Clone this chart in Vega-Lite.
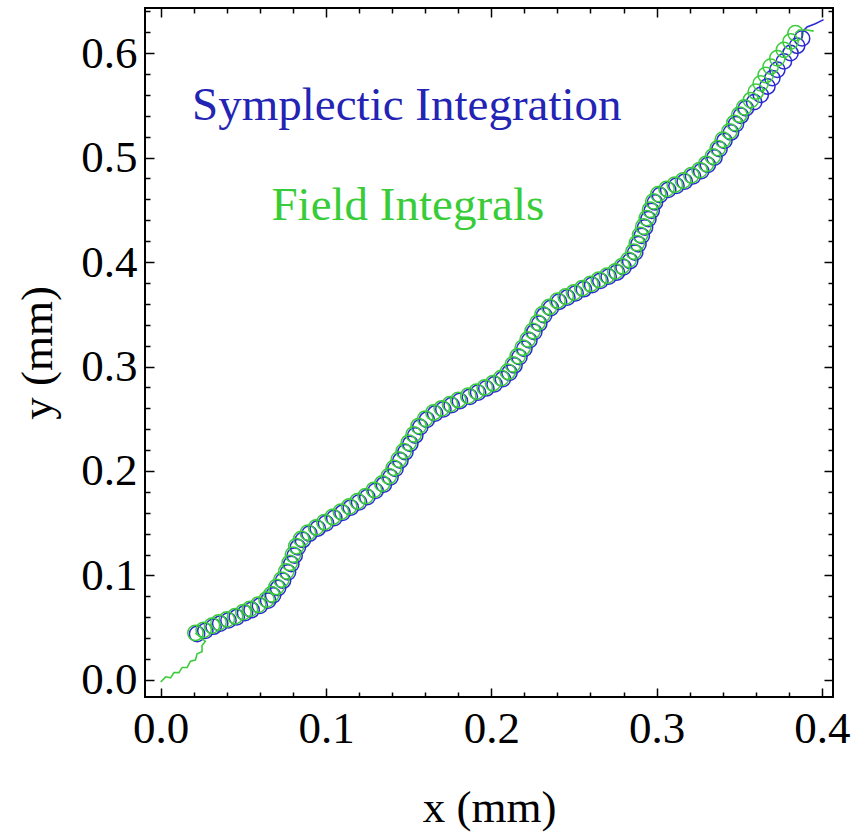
{
  "$schema": "https://vega.github.io/schema/vega-lite/v6.json",
  "width": 688,
  "height": 689,
  "autosize": {"type": "none"},
  "padding": {"left": 145, "top": 8, "right": 33, "bottom": 136},
  "background": "white",
  "config": {
    "view": {"stroke": "black", "strokeWidth": 2},
    "axis": {"domain": false, "grid": false, "tickColor": "black", "tickWidth": 1.5, "labelFont": "Liberation Serif", "labelFontSize": 45, "labelColor": "black", "titleFont": "Liberation Serif", "titleFontSize": 45, "titleFontWeight": "normal", "titleColor": "black", "labelFlush": false, "labelOverlap": false, "labelBound": false}
  },
  "datasets": {
    "rings": [
      {"s":"S","x":0.022,"y":0.044},{"s":"S","x":0.027,"y":0.047},{"s":"S","x":0.032,"y":0.051},{"s":"S","x":0.036,"y":0.054},{"s":"S","x":0.041,"y":0.057},{"s":"S","x":0.046,"y":0.060},{"s":"S","x":0.051,"y":0.064},{"s":"S","x":0.055,"y":0.067},{"s":"S","x":0.060,"y":0.071},{"s":"S","x":0.065,"y":0.076},
      {"s":"S","x":0.068,"y":0.081},{"s":"S","x":0.071,"y":0.088},{"s":"S","x":0.074,"y":0.095},{"s":"S","x":0.077,"y":0.103},{"s":"S","x":0.079,"y":0.111},{"s":"S","x":0.081,"y":0.119},{"s":"S","x":0.083,"y":0.127},{"s":"S","x":0.086,"y":0.134},{"s":"S","x":0.090,"y":0.140},{"s":"S","x":0.095,"y":0.145},
      {"s":"S","x":0.100,"y":0.150},{"s":"S","x":0.105,"y":0.155},{"s":"S","x":0.110,"y":0.160},{"s":"S","x":0.115,"y":0.165},{"s":"S","x":0.120,"y":0.170},{"s":"S","x":0.125,"y":0.175},{"s":"S","x":0.130,"y":0.181},{"s":"S","x":0.135,"y":0.187},{"s":"S","x":0.139,"y":0.194},{"s":"S","x":0.142,"y":0.202},
      {"s":"S","x":0.145,"y":0.210},{"s":"S","x":0.148,"y":0.218},{"s":"S","x":0.151,"y":0.226},{"s":"S","x":0.154,"y":0.234},{"s":"S","x":0.157,"y":0.242},{"s":"S","x":0.161,"y":0.249},{"s":"S","x":0.166,"y":0.255},{"s":"S","x":0.171,"y":0.259},{"s":"S","x":0.176,"y":0.263},{"s":"S","x":0.181,"y":0.267},
      {"s":"S","x":0.187,"y":0.271},{"s":"S","x":0.192,"y":0.275},{"s":"S","x":0.197,"y":0.279},{"s":"S","x":0.202,"y":0.283},{"s":"S","x":0.207,"y":0.288},{"s":"S","x":0.211,"y":0.294},{"s":"S","x":0.214,"y":0.301},{"s":"S","x":0.217,"y":0.309},{"s":"S","x":0.220,"y":0.317},{"s":"S","x":0.223,"y":0.325},
      {"s":"S","x":0.226,"y":0.333},{"s":"S","x":0.229,"y":0.341},{"s":"S","x":0.232,"y":0.349},{"s":"S","x":0.236,"y":0.356},{"s":"S","x":0.241,"y":0.362},{"s":"S","x":0.246,"y":0.366},{"s":"S","x":0.251,"y":0.370},{"s":"S","x":0.256,"y":0.374},{"s":"S","x":0.261,"y":0.378},{"s":"S","x":0.266,"y":0.382},
      {"s":"S","x":0.271,"y":0.386},{"s":"S","x":0.276,"y":0.390},{"s":"S","x":0.280,"y":0.395},{"s":"S","x":0.284,"y":0.401},{"s":"S","x":0.287,"y":0.409},{"s":"S","x":0.289,"y":0.417},{"s":"S","x":0.291,"y":0.425},{"s":"S","x":0.293,"y":0.433},{"s":"S","x":0.295,"y":0.441},{"s":"S","x":0.297,"y":0.449},
      {"s":"S","x":0.299,"y":0.457},{"s":"S","x":0.302,"y":0.464},{"s":"S","x":0.307,"y":0.469},{"s":"S","x":0.312,"y":0.473},{"s":"S","x":0.317,"y":0.477},{"s":"S","x":0.322,"y":0.482},{"s":"S","x":0.327,"y":0.487},{"s":"S","x":0.331,"y":0.493},{"s":"S","x":0.335,"y":0.500},{"s":"S","x":0.338,"y":0.508},
      {"s":"S","x":0.341,"y":0.516},{"s":"S","x":0.345,"y":0.524},{"s":"S","x":0.348,"y":0.532},{"s":"S","x":0.351,"y":0.540},{"s":"S","x":0.354,"y":0.547},{"s":"S","x":0.359,"y":0.553},{"s":"S","x":0.363,"y":0.560},{"s":"S","x":0.367,"y":0.568},{"s":"S","x":0.370,"y":0.576},{"s":"S","x":0.373,"y":0.584},
      {"s":"S","x":0.377,"y":0.592},{"s":"S","x":0.381,"y":0.600},{"s":"S","x":0.385,"y":0.607},{"s":"S","x":0.388,"y":0.614},
      {"s":"F","x":0.021,"y":0.045},{"s":"F","x":0.026,"y":0.048},{"s":"F","x":0.031,"y":0.052},{"s":"F","x":0.035,"y":0.055},{"s":"F","x":0.040,"y":0.058},{"s":"F","x":0.045,"y":0.061},{"s":"F","x":0.050,"y":0.065},{"s":"F","x":0.054,"y":0.068},{"s":"F","x":0.059,"y":0.072},{"s":"F","x":0.064,"y":0.077},
      {"s":"F","x":0.067,"y":0.082},{"s":"F","x":0.070,"y":0.089},{"s":"F","x":0.073,"y":0.096},{"s":"F","x":0.076,"y":0.104},{"s":"F","x":0.078,"y":0.112},{"s":"F","x":0.080,"y":0.120},{"s":"F","x":0.082,"y":0.128},{"s":"F","x":0.085,"y":0.135},{"s":"F","x":0.089,"y":0.141},{"s":"F","x":0.094,"y":0.146},
      {"s":"F","x":0.099,"y":0.151},{"s":"F","x":0.104,"y":0.156},{"s":"F","x":0.109,"y":0.161},{"s":"F","x":0.114,"y":0.166},{"s":"F","x":0.119,"y":0.171},{"s":"F","x":0.124,"y":0.176},{"s":"F","x":0.129,"y":0.182},{"s":"F","x":0.134,"y":0.188},{"s":"F","x":0.138,"y":0.195},{"s":"F","x":0.141,"y":0.203},
      {"s":"F","x":0.144,"y":0.211},{"s":"F","x":0.147,"y":0.219},{"s":"F","x":0.150,"y":0.227},{"s":"F","x":0.153,"y":0.235},{"s":"F","x":0.156,"y":0.243},{"s":"F","x":0.160,"y":0.250},{"s":"F","x":0.165,"y":0.256},{"s":"F","x":0.170,"y":0.260},{"s":"F","x":0.175,"y":0.264},{"s":"F","x":0.180,"y":0.268},
      {"s":"F","x":0.186,"y":0.272},{"s":"F","x":0.191,"y":0.276},{"s":"F","x":0.196,"y":0.280},{"s":"F","x":0.201,"y":0.284},{"s":"F","x":0.206,"y":0.289},{"s":"F","x":0.210,"y":0.295},{"s":"F","x":0.213,"y":0.302},{"s":"F","x":0.216,"y":0.310},{"s":"F","x":0.219,"y":0.318},{"s":"F","x":0.222,"y":0.326},
      {"s":"F","x":0.225,"y":0.334},{"s":"F","x":0.228,"y":0.342},{"s":"F","x":0.231,"y":0.350},{"s":"F","x":0.235,"y":0.357},{"s":"F","x":0.240,"y":0.363},{"s":"F","x":0.245,"y":0.367},{"s":"F","x":0.250,"y":0.371},{"s":"F","x":0.255,"y":0.375},{"s":"F","x":0.260,"y":0.379},{"s":"F","x":0.265,"y":0.383},
      {"s":"F","x":0.270,"y":0.387},{"s":"F","x":0.275,"y":0.391},{"s":"F","x":0.279,"y":0.396},{"s":"F","x":0.283,"y":0.402},{"s":"F","x":0.286,"y":0.410},{"s":"F","x":0.288,"y":0.418},{"s":"F","x":0.290,"y":0.426},{"s":"F","x":0.292,"y":0.434},{"s":"F","x":0.294,"y":0.442},{"s":"F","x":0.296,"y":0.450},
      {"s":"F","x":0.298,"y":0.458},{"s":"F","x":0.301,"y":0.465},{"s":"F","x":0.306,"y":0.470},{"s":"F","x":0.311,"y":0.474},{"s":"F","x":0.316,"y":0.478},{"s":"F","x":0.321,"y":0.483},{"s":"F","x":0.326,"y":0.488},{"s":"F","x":0.330,"y":0.494},{"s":"F","x":0.334,"y":0.501},{"s":"F","x":0.337,"y":0.509},
      {"s":"F","x":0.340,"y":0.517},{"s":"F","x":0.344,"y":0.525},{"s":"F","x":0.347,"y":0.533},{"s":"F","x":0.350,"y":0.541},{"s":"F","x":0.353,"y":0.548},{"s":"F","x":0.357,"y":0.555},{"s":"F","x":0.360,"y":0.563},{"s":"F","x":0.363,"y":0.571},{"s":"F","x":0.366,"y":0.579},{"s":"F","x":0.369,"y":0.587},
      {"s":"F","x":0.373,"y":0.595},{"s":"F","x":0.377,"y":0.603},{"s":"F","x":0.381,"y":0.611},{"s":"F","x":0.384,"y":0.619}
    ],
    "lines": [
      {"s":"S","p":"tail","o":1,"x":0.388,"y":0.614},{"s":"S","p":"tail","o":2,"x":0.388,"y":0.620},{"s":"S","p":"tail","o":3,"x":0.391,"y":0.625},{"s":"S","p":"tail","o":4,"x":0.396,"y":0.628},{"s":"S","p":"tail","o":5,"x":0.401,"y":0.632},
      {"s":"F","p":"start","o":1,"x":0.000,"y":-0.002},{"s":"F","p":"start","o":2,"x":0.003,"y":0.003},{"s":"F","p":"start","o":3,"x":0.006,"y":0.002},{"s":"F","p":"start","o":4,"x":0.008,"y":0.007},{"s":"F","p":"start","o":5,"x":0.011,"y":0.007},{"s":"F","p":"start","o":6,"x":0.013,"y":0.012},{"s":"F","p":"start","o":7,"x":0.016,"y":0.012},{"s":"F","p":"start","o":8,"x":0.018,"y":0.018},{"s":"F","p":"start","o":9,"x":0.021,"y":0.019},{"s":"F","p":"start","o":10,"x":0.022,"y":0.025},{"s":"F","p":"start","o":11,"x":0.025,"y":0.027},{"s":"F","p":"start","o":12,"x":0.025,"y":0.033},{"s":"F","p":"start","o":13,"x":0.027,"y":0.037},{"s":"F","p":"start","o":14,"x":0.024,"y":0.041},{"s":"F","p":"start","o":15,"x":0.021,"y":0.045},
      {"s":"F","p":"ftail","o":1,"x":0.384,"y":0.619},{"s":"F","p":"ftail","o":2,"x":0.386,"y":0.622},{"s":"F","p":"ftail","o":3,"x":0.391,"y":0.622},{"s":"F","p":"ftail","o":4,"x":0.395,"y":0.621}
    ]
  },
  "resolve": {"axis": {"x": "independent", "y": "independent"}},
  "layer": [
    {
      "data": {"name": "rings"},
      "mark": {"type": "point", "shape": "circle", "filled": false, "size": 235, "strokeWidth": 1.5, "opacity": 1},
      "encoding": {
        "x": {"field": "x", "type": "quantitative", "scale": {"domain": [-0.0095, 0.4067], "nice": false, "zero": false},
              "axis": {"orient": "bottom", "values": [0, 0.1, 0.2, 0.3, 0.4], "format": ".1f", "tickSize": -9, "labelPadding": 18, "title": "x (mm)", "titlePadding": 34, "titleFontWeight": "normal"}},
        "y": {"field": "y", "type": "quantitative", "scale": {"domain": [-0.0163, 0.6431], "nice": false, "zero": false},
              "axis": {"orient": "left", "values": [0, 0.1, 0.2, 0.3, 0.4, 0.5, 0.6], "format": ".1f", "tickSize": -9, "labelPadding": 17, "title": "y (mm)", "titlePadding": 20, "titleFontWeight": "normal"}},
        "color": {"field": "s", "type": "nominal", "scale": {"domain": ["S", "F"], "range": ["#2b2bd0", "#3ccc3c"]}, "legend": null},
        "order": {"field": "s", "sort": "descending"}
      }
    },
    {
      "data": {"name": "lines"},
      "mark": {"type": "line", "strokeWidth": 1.6, "interpolate": "linear"},
      "encoding": {
        "x": {"field": "x", "type": "quantitative", "scale": {"domain": [-0.0095, 0.4067], "nice": false, "zero": false},
              "axis": {"orient": "bottom", "values": [0.02, 0.04, 0.06, 0.08, 0.12, 0.14, 0.16, 0.18, 0.22, 0.24, 0.26, 0.28, 0.32, 0.34, 0.36, 0.38], "tickSize": -5, "labels": false, "title": null}},
        "y": {"field": "y", "type": "quantitative", "scale": {"domain": [-0.0163, 0.6431], "nice": false, "zero": false},
              "axis": {"orient": "left", "values": [0.02, 0.04, 0.06, 0.08, 0.12, 0.14, 0.16, 0.18, 0.22, 0.24, 0.26, 0.28, 0.32, 0.34, 0.36, 0.38, 0.42, 0.44, 0.46, 0.48, 0.52, 0.54, 0.56, 0.58, 0.62, 0.64], "tickSize": -5, "labels": false, "title": null}},
        "color": {"field": "s", "type": "nominal", "scale": {"domain": ["S", "F"], "range": ["#2b2bd0", "#3ccc3c"]}, "legend": null},
        "detail": {"field": "p"},
        "order": {"field": "o", "type": "quantitative"}
      }
    },
    {
      "data": {"values": [{"x": 0.019, "y": 0.536, "label": "Symplectic Integration"}]},
      "mark": {"type": "text", "align": "left", "baseline": "alphabetic", "font": "Liberation Serif", "fontSize": 47, "color": "#2323b4"},
      "encoding": {
        "x": {"field": "x", "type": "quantitative", "scale": {"domain": [-0.0095, 0.4067], "nice": false, "zero": false},
              "axis": {"orient": "top", "values": [0, 0.1, 0.2, 0.3, 0.4], "tickSize": -9, "labels": false, "title": null}},
        "y": {"field": "y", "type": "quantitative", "scale": {"domain": [-0.0163, 0.6431], "nice": false, "zero": false},
              "axis": {"orient": "right", "values": [0, 0.1, 0.2, 0.3, 0.4, 0.5, 0.6], "tickSize": -9, "labels": false, "title": null}},
        "text": {"field": "label"}
      }
    },
    {
      "data": {"values": [{"x": 0.067, "y": 0.44, "label": "Field Integrals"}]},
      "mark": {"type": "text", "align": "left", "baseline": "alphabetic", "font": "Liberation Serif", "fontSize": 47, "color": "#38cc38"},
      "encoding": {
        "x": {"field": "x", "type": "quantitative", "scale": {"domain": [-0.0095, 0.4067], "nice": false, "zero": false},
              "axis": {"orient": "top", "values": [0.02, 0.04, 0.06, 0.08, 0.12, 0.14, 0.16, 0.18, 0.22, 0.24, 0.26, 0.28, 0.32, 0.34, 0.36, 0.38], "tickSize": -5, "labels": false, "title": null}},
        "y": {"field": "y", "type": "quantitative", "scale": {"domain": [-0.0163, 0.6431], "nice": false, "zero": false},
              "axis": {"orient": "right", "values": [0.02, 0.04, 0.06, 0.08, 0.12, 0.14, 0.16, 0.18, 0.22, 0.24, 0.26, 0.28, 0.32, 0.34, 0.36, 0.38, 0.42, 0.44, 0.46, 0.48, 0.52, 0.54, 0.56, 0.58, 0.62, 0.64], "tickSize": -5, "labels": false, "title": null}},
        "text": {"field": "label"}
      }
    }
  ]
}
